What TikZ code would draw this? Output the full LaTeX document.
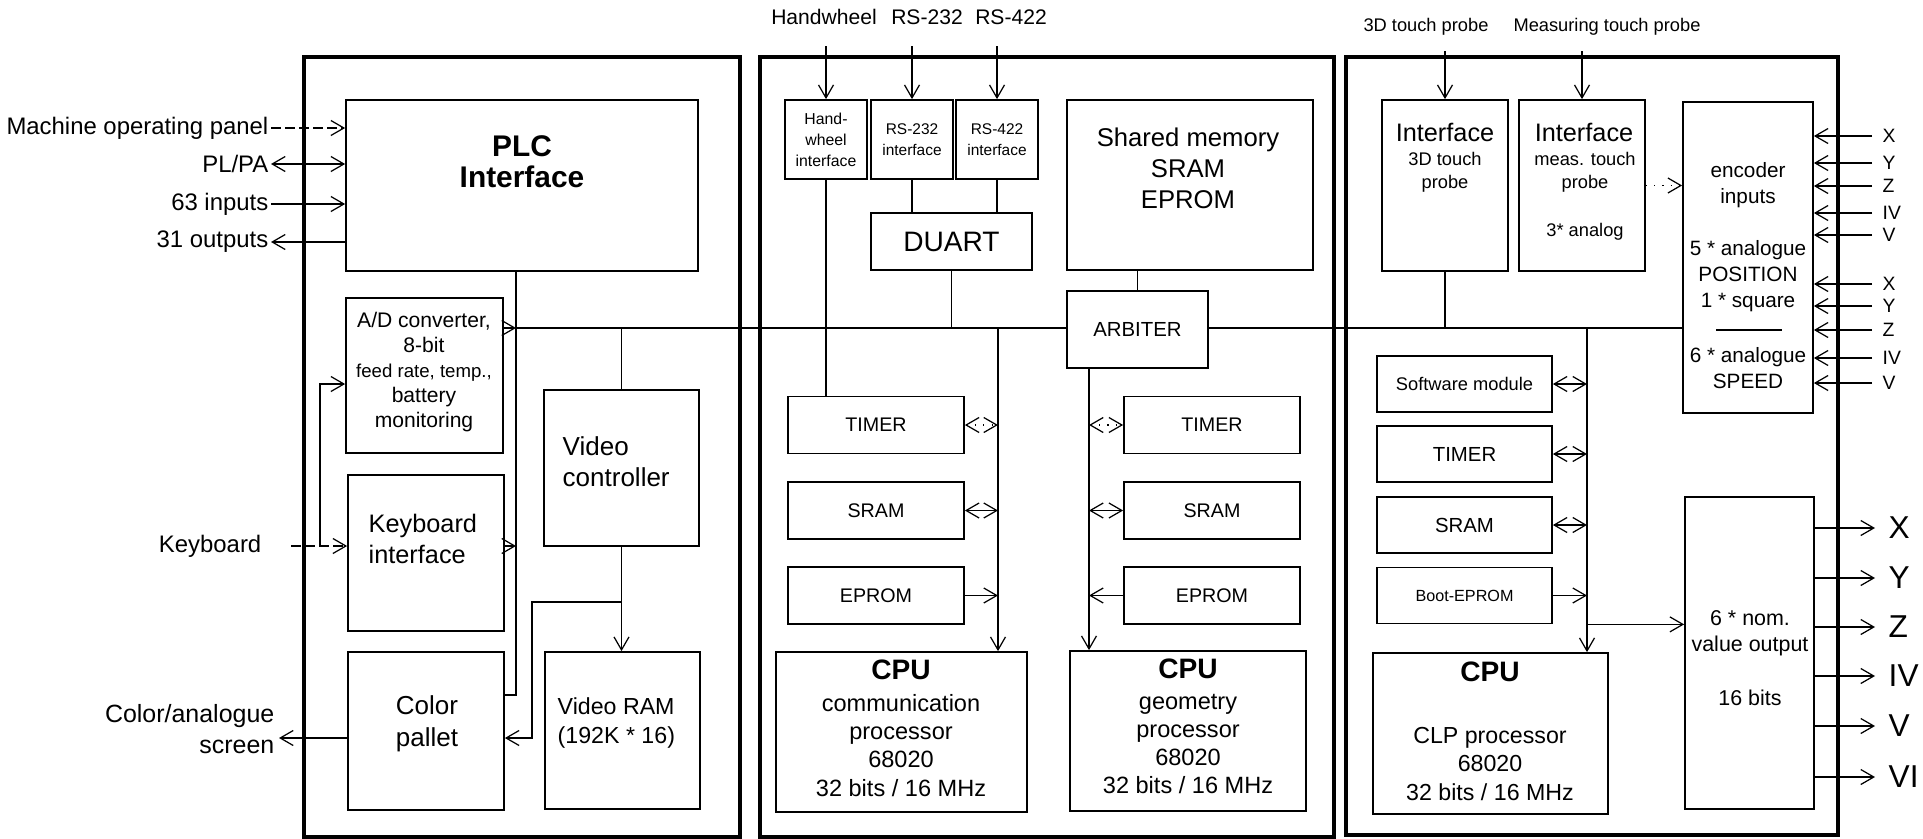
\documentclass[tikz,border=0pt]{standalone}
\usepackage{fontspec}
\setmainfont{Liberation Sans}
\usetikzlibrary{arrows.meta}
\newcommand{\fsz}[2]{\fontsize{#1pt}{#2pt}\selectfont}

\begin{document}
\begin{tikzpicture}[x=0.1mm, y=-0.1mm,
    outer/.style={line width=1.2pt},
    blk/.style={draw, line width=0.5pt, inner sep=0pt, align=center},
    ln/.style={line width=0.35pt},
    arr/.style={ln, -{Straight Barb[length=1.3mm, width=1.5mm]}},
    darr/.style={ln, {Straight Barb[length=1.3mm, width=1.5mm]}-{Straight Barb[length=1.3mm, width=1.5mm]}},
    txt/.style={inner sep=0pt, align=center},
    lbl/.style={inner sep=0.2mm, anchor=east, font=\fsz{6.8}{9}},
    mem/.style={blk, minimum width=17.6mm, minimum height=5.7mm, font=\fsz{5.6}{7}},
    mem3/.style={blk, minimum width=17.5mm, minimum height=5.6mm, font=\fsz{5.8}{7}},
    axs/.style={inner xsep=1mm, inner ysep=0pt, anchor=west, font=\fsz{5.5}{6}},
    axb/.style={inner xsep=1.3mm, inner ysep=0pt, anchor=west, font=\fsz{9}{10}},
  ]
    % pixel grid: 1923 x 839, y running downwards
    \useasboundingbox (0,0) rectangle (1923,839);

    % ===== LEFT BOARD (x=304..740): PLC, keyboard, video =====
    \draw[outer] (304,57) rectangle (740,837);

    \node[blk, minimum width=35.2mm, minimum height=17.1mm] (plc) at (522,185.5) {};
    \node[txt, font=\fsz{8.5}{8.8}\bfseries] (plct) at (522,162) {PLC\\Interface};

    \node[blk, minimum width=15.7mm, minimum height=15.5mm] (ad) at (424.5,375.5) {};
    \node[txt, font=\fsz{6}{7.1}] (adt) at (424,372)
      {A/D converter,\\8-bit\\\fsz{5.3}{7.1}feed rate, temp.,\\battery\\monitoring};

    \node[blk, minimum width=15.5mm, minimum height=15.6mm] (vc) at (621.5,468) {};
    \node[txt, align=left, anchor=west, font=\fsz{7.4}{8.8}] (vct) at (562,462) {Video\\controller};

    \node[blk, minimum width=15.6mm, minimum height=15.6mm] (kb) at (426,553) {};
    \node[txt, align=left, anchor=west, font=\fsz{7.2}{9}] (kbt) at (368,539) {Keyboard\\interface};

    \node[blk, minimum width=15.5mm, minimum height=15.7mm] (vram) at (622.5,730.5) {};
    \node[txt, align=left, anchor=west, font=\fsz{6.6}{8.5}] (vramt) at (557,723) {Video RAM\\(192K * 16)};

    \node[blk, minimum width=15.6mm, minimum height=15.8mm] (cp) at (426,731) {};
    \node[txt, font=\fsz{7.4}{9}] (cpt) at (427,724) {Color\\pallet};

    % machine side signals
    \node[lbl] (mop)  at (271,128) {Machine operating panel};
    \node[lbl] (plpa) at (271,164) {PL/PA};
    \node[lbl] (inp)  at (271,204) {63 inputs};
    \node[lbl] (outp) at (271,242) {31 outputs};
    \draw[arr, dash pattern=on 1mm off 0.4mm] (mop.east) -- (mop.east -| plc.west);
    \draw[darr] (plpa.east) -- (plpa.east -| plc.west);
    \draw[arr] (inp.east) -- (inp.east -| plc.west);
    \draw[arr] (outp.east -| plc.west) -- (outp.east);

    \node[lbl] (kbl) at (264,546) {Keyboard};
    \draw[arr, dash pattern=on 1mm off 0.4mm] ([xshift=2.7mm]kbl.east) -- (kbl.east -| kb.west);
    \draw[arr] ([xshift=5.6mm]kbl.east) |- ([yshift=-0.85mm]ad.west);

    \node[lbl, align=right, inner sep=0.4mm, font=\fsz{7.1}{9}] (scr) at (279,729) {Color/analogue\\screen};
    \draw[arr] ([yshift=-0.7mm]cp.west) -- ([yshift=-0.7mm]cp.west -| scr.east);

    % internal bus of the left board
    \coordinate (bus)  at (516,328);
    \coordinate (lbus) at (516,695);
    \draw[ln] (plc.south -| lbus) -- (lbus) -- (lbus -| cp.east);
    \draw[arr] (ad.east |- bus) -- (bus);
    \draw[arr] (kb.east |- kbl.east) -- (kbl.east -| lbus);
    \draw[ln] (vc.north |- bus) -- (vc.north);
    \draw[arr] (vc.south) -- (vc.south |- vram.north);
    \coordinate (vbr) at (532,602);
    \draw[arr] (vc.south |- vbr) -- (vbr) |- ([yshift=-0.7mm]cp.east);

    % ===== MIDDLE BOARD (x=760..1334): communication + geometry =====
    \draw[outer] (760,57) rectangle (1334,837);

    \node[font=\fsz{6}{7}] (hwl)  at (824,17)  {Handwheel};
    \node[font=\fsz{6}{7}] (rs2l) at (927,17)  {RS-232};
    \node[font=\fsz{6}{7}] (rs4l) at (1011,17) {RS-422};

    \node[blk, minimum width=8.2mm, minimum height=7.9mm, font=\fsz{4.5}{6}] (hw)  at (826,139.5) {Hand-\\wheel\\interface};
    \node[blk, minimum width=8.2mm, minimum height=7.9mm, font=\fsz{4.4}{6}] (rs2) at (912,139.5) {RS-232\\interface};
    \node[blk, minimum width=8.2mm, minimum height=7.9mm, font=\fsz{4.4}{6}] (rs4) at (997,139.5) {RS-422\\interface};
    \draw[arr] ([yshift=5.3mm]hw.north)  -- (hw.north);
    \draw[arr] ([yshift=5.3mm]rs2.north) -- (rs2.north);
    \draw[arr] ([yshift=5.3mm]rs4.north) -- (rs4.north);

    \node[blk, minimum width=16.1mm, minimum height=5.7mm, font=\fsz{8}{9}] (duart) at (951.5,241.5) {DUART};
    \draw[ln] (rs2.south) -- (rs2.south |- duart.north);
    \draw[ln] (rs4.south) -- (rs4.south |- duart.north);
    \draw[ln] (duart.south) -- (duart.south |- bus);

    \node[blk, minimum width=24.6mm, minimum height=17mm] (shm) at (1190,185) {};
    \node[txt, font=\fsz{7.3}{8.8}] (shmt) at (1188,168) {Shared memory\\SRAM\\EPROM};

    \node[blk, minimum width=14.1mm, minimum height=7.7mm, font=\fsz{5.8}{7}] (arb) at (1137.5,329.5) {ARBITER};
    \draw[ln] (arb.north |- shm.south) -- (arb.north);

    % memory columns beside both CPUs
    \foreach \nm/\txt/\yy in {tm/TIMER/425, sr/SRAM/510.5, ep/EPROM/595.5} {
      \node[mem] (\nm1) at (876,\yy)  {\txt};
      \node[mem] (\nm2) at (1212,\yy) {\txt};
    }
    \draw[ln] (hw.south) -- (hw.south |- tm1.north);

    \node[blk, minimum width=25.1mm, minimum height=16mm] (cpu1) at (901.5,732) {};
    \node[txt, font=\fsz{8}{8}\bfseries] (cpu1h) at (901,670) {CPU};
    \node[txt, font=\fsz{6.7}{8}] (cpu1t) at (901,745.5) {communication\\processor\\68020\\32 bits / 16 MHz};

    \node[blk, minimum width=23.6mm, minimum height=16mm] (cpu2) at (1188,731) {};
    \node[txt, font=\fsz{8}{8}\bfseries] (cpu2h) at (1188,669) {CPU};
    \node[txt, font=\fsz{6.7}{8}] (cpu2t) at (1188,744) {geometry\\processor\\68020\\32 bits / 16 MHz};

    % local buses of the two CPUs
    \coordinate (cbus) at (998,328);
    \coordinate (gbus) at (1089,368);
    \draw[arr] (cbus) -- (cbus |- cpu1.north);
    \draw[arr] (gbus) -- (gbus |- cpu2.north);
    \draw[darr, dotted] (tm1.east) -- (tm1.east -| cbus);
    \draw[darr] (sr1.east) -- (sr1.east -| cbus);
    \draw[arr] (ep1.east) -- (ep1.east -| cbus);
    \draw[darr, dotted] (tm2.west -| gbus) -- (tm2.west);
    \draw[darr] (sr2.west -| gbus) -- (sr2.west);
    \draw[arr] (ep2.west) -- (ep2.west -| gbus);

    % ===== RIGHT BOARD (x=1346..1838): CLP, encoders, outputs =====
    \draw[outer] (1346,57) rectangle (1838,835);

    \node[font=\fsz{5.2}{6}] (p3dl) at (1426,27) {3D touch probe};
    \node[font=\fsz{5.2}{6}] (pml)  at (1607,27) {Measuring touch probe};

    \node[blk, minimum width=12.6mm, minimum height=17.1mm] (if3d) at (1445,185.5) {};
    \node[txt, font=\fsz{7.2}{8}] (if3dh) at (1445,132) {Interface};
    \node[txt, font=\fsz{5.2}{6.6}] (if3dt) at (1445,172.5) {3D touch\\probe};

    \node[blk, minimum width=12.6mm, minimum height=17.1mm] (ifm) at (1582,185.5) {};
    \node[txt, font=\fsz{7.2}{8}] (ifmh) at (1584,132) {Interface};
    \node[txt, font=\fsz{5.2}{6.6}] (ifmt) at (1585,172.5) {meas. touch\\probe};
    \node[txt, font=\fsz{5.2}{6.6}] (ifma) at (1585,232) {3* analog};

    \draw[arr] ([yshift=4.8mm]if3d.north) -- (if3d.north);
    \draw[arr] ([yshift=4.8mm]ifm.north) -- (ifm.north);

    \node[blk, minimum width=13mm, minimum height=31.1mm] (enc) at (1748,257.5) {};
    \node[txt, font=\fsz{5.9}{7.4}] (enct) at (1748,185)   {encoder\\inputs};
    \node[txt, font=\fsz{5.9}{7.4}] (encp) at (1748,276.5) {5 * analogue\\POSITION\\1 * square};
    \node[txt, font=\fsz{5.9}{7.4}] (encs) at (1748,368.5) {6 * analogue\\SPEED};
    \draw[ln] (1716,330) -- (1782,330);
    \draw[arr, dotted] (ifm.east) -- (ifm.east -| enc.west);

    \foreach \ax/\yy [count=\i] in {X/136, Y/163, Z/186, IV/213, V/235, X/284, Y/306, Z/330, IV/358, V/383} {
      \node[axs] (ein\i) at (1872,\yy) {\ax};
      \draw[arr] (ein\i.west) -- (ein\i.west -| enc.east);
    }

    % main bus continues past the arbiter
    \draw[ln] (bus) -- (bus -| arb.west);
    \draw[ln] (bus -| arb.east) -- (bus -| enc.west);
    \draw[ln] (if3d.south) -- (if3d.south |- bus);

    \node[mem3, font=\fsz{5.2}{6}] (sw) at (1464.5,384) {Software module};
    \node[mem3] (tm3) at (1464.5,454) {TIMER};
    \node[mem3] (sr3) at (1464.5,525) {SRAM};
    \node[mem3, font=\fsz{4.6}{6}] (be) at (1464.5,595.5) {Boot-EPROM};

    \node[blk, minimum width=23.5mm, minimum height=16.1mm] (cpu3) at (1490.5,733.5) {};
    \node[txt, font=\fsz{8}{8}\bfseries] (cpu3h) at (1490,672) {CPU};
    \node[txt, font=\fsz{6.6}{8.2}] (cpu3t) at (1490,764) {CLP processor\\68020\\32 bits / 16 MHz};

    \coordinate (rbus) at (1587,328);
    \draw[arr] (rbus) -- (rbus |- cpu3.north);
    \draw[darr] (sw.east)  -- (sw.east -| rbus);
    \draw[darr] (tm3.east) -- (tm3.east -| rbus);
    \draw[darr] (sr3.east) -- (sr3.east -| rbus);
    \draw[arr] (be.east) -- (be.east -| rbus);

    \node[blk, minimum width=12.9mm, minimum height=31.2mm] (nv) at (1749.5,653) {};
    \node[txt, font=\fsz{6.1}{7.4}] (nvt) at (1750,633) {6 * nom.\\value output};
    \node[txt, font=\fsz{6.1}{7.4}] (nvb) at (1750,698) {16 bits};
    \draw[arr] (rbus |- be.south) -- (be.south -| nv.west);

    \foreach \ax/\yy [count=\i] in {X/528, Y/578, Z/627, IV/676, V/726, VI/777} {
      \node[axb] (out\i) at (1875,\yy) {\ax};
      \draw[arr] (out\i.west -| nv.east) -- (out\i.west);
    }

  \end{tikzpicture}
\end{document}
